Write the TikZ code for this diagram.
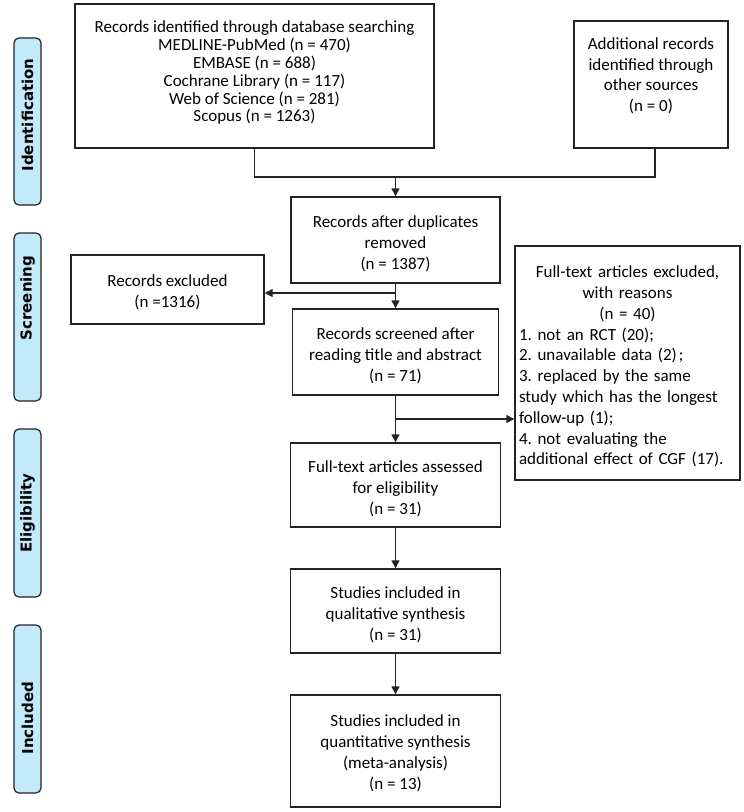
\documentclass[tikz,border=0pt]{standalone}
\usepackage{fontspec}
\usepackage{graphicx}
\setmainfont{Carlito}
\newfontfamily\sidefont{DejaVu Sans}
\usetikzlibrary{arrows.meta}
\definecolor{sidefill}{RGB}{194,234,250}
\definecolor{edge}{RGB}{35,35,35}
\newcommand\Tup{\rule{0pt}{19pt}}
\frenchspacing
\begin{document}
\begin{tikzpicture}[x=1pt,y=-1pt,
  box/.style={draw=edge, line width=1.4pt, inner sep=0pt, align=center,
    font=\fontsize{17}{20.8}\selectfont},
  side/.style={draw=edge, fill=sidefill, line width=1.2pt, rounded corners=5pt,
    minimum width=27pt, minimum height=168pt, inner sep=0pt},
  sidetext/.style={rotate=90, inner sep=0pt, font=\sidefont\bfseries\fontsize{15}{17}\selectfont},
  arr/.style={draw=edge, line width=1.4pt, -{Triangle[length=8pt,width=8pt]}},
  conn/.style={draw=edge, line width=1.4pt}]
\useasboundingbox (0,0) rectangle (744,812);

% phase bars
\node[side, minimum height=167pt] (sid1) at (27.5,121.5) {};
\node[side] (sid2) at (27.5,317) {};
\node[side] (sid3) at (27.5,513) {};
\node[side] (sid4) at (27.5,709) {};
\node[sidetext] (sidt1) at (27.5,115) {Identification};
\node[sidetext] (sidt2) at (27.5,298) {Screening};
\node[sidetext] (sidt3) at (27.5,513) {Eligibility};
\node[sidetext] (sidt4) at (27.5,718) {Included};

% boxes
\node[box, minimum width=359pt, minimum height=144pt,
  font=\fontsize{17}{17.8}\selectfont] (ident) at (254.5,76)
  {Records identified through database searching\\
   MEDLINE-PubMed (n = 470)\\
   EMBASE (n = 688)\\
   Cochrane Library (n = 117)\\
   Web of Science (n = 281)\\
   Scopus (n = 1263)\rule[-9pt]{0pt}{0pt}};
\node[box, minimum width=154pt, minimum height=127pt] (add) at (651,84.5)
  {Additional records\\ identified through\\ other sources\\ (n = 0)\rule[-20pt]{0pt}{0pt}};
\node[box, minimum width=209pt, minimum height=86pt] (dup) at (395.5,240)
  {\Tup Records after duplicates\\ removed\\ (n = 1387)};
\node[box, minimum width=193pt, minimum height=69pt] (excl) at (167.5,289.5)
  {\rule{0pt}{17pt}Records excluded\\ (n =1316)};
\node[box, minimum width=206pt, minimum height=86pt] (screen) at (395.5,352)
  {\Tup Records screened after\\ reading title and abstract\\ (n = 71)};
\node[box, minimum width=225pt, minimum height=234pt, inner xsep=4pt,
  text width=217pt, align=left] (ftexcl) at (627.5,363)
  {\makebox[217pt][c]{\Tup Full-text articles excluded,}\\
   \makebox[217pt][c]{with reasons}\\
   \makebox[217pt][c]{(n = 40)}\\
   1. not an RCT (20);\\
   2. unavailable data (2)\hspace{2pt};\\
   3. replaced by the same\\
   study which has the longest\\
   follow-up (1);\\
   4. not evaluating the\\
   additional effect of CGF (17).};
\node[box, minimum width=210pt, minimum height=84pt] (fta) at (395.5,485)
  {\Tup Full-text articles assessed\\ for eligibility\\ (n = 31)};
\node[box, minimum width=210pt, minimum height=84pt] (qual) at (395.5,611)
  {\Tup Studies included in\\ qualitative synthesis\\ (n = 31)};
\node[box, minimum width=210pt, minimum height=112pt] (quant) at (395.5,751)
  {\rule{0pt}{16pt}Studies included in\\ quantitative synthesis\\ (meta-analysis)\\ (n = 13)};

% connectors
\coordinate (j) at (395.5,177);
\coordinate (k) at (395.5,293);
\coordinate (m) at (395.5,419);
\draw[conn] (ident.south) |- (j) -| ([xshift=4pt]add.south);
\draw[arr] (j) -- (dup.north);
\draw[arr] (dup.south) -- (dup.south |- screen.north);
\draw[arr] (k) -- (excl.east |- k);
\draw[arr] (screen.south) -- (screen.south |- fta.north);
\draw[arr] (m) -- (ftexcl.west |- m);
\draw[arr] (fta.south) -- (qual.north);
\draw[arr] (qual.south) -- (quant.north);
\end{tikzpicture}
\end{document}
